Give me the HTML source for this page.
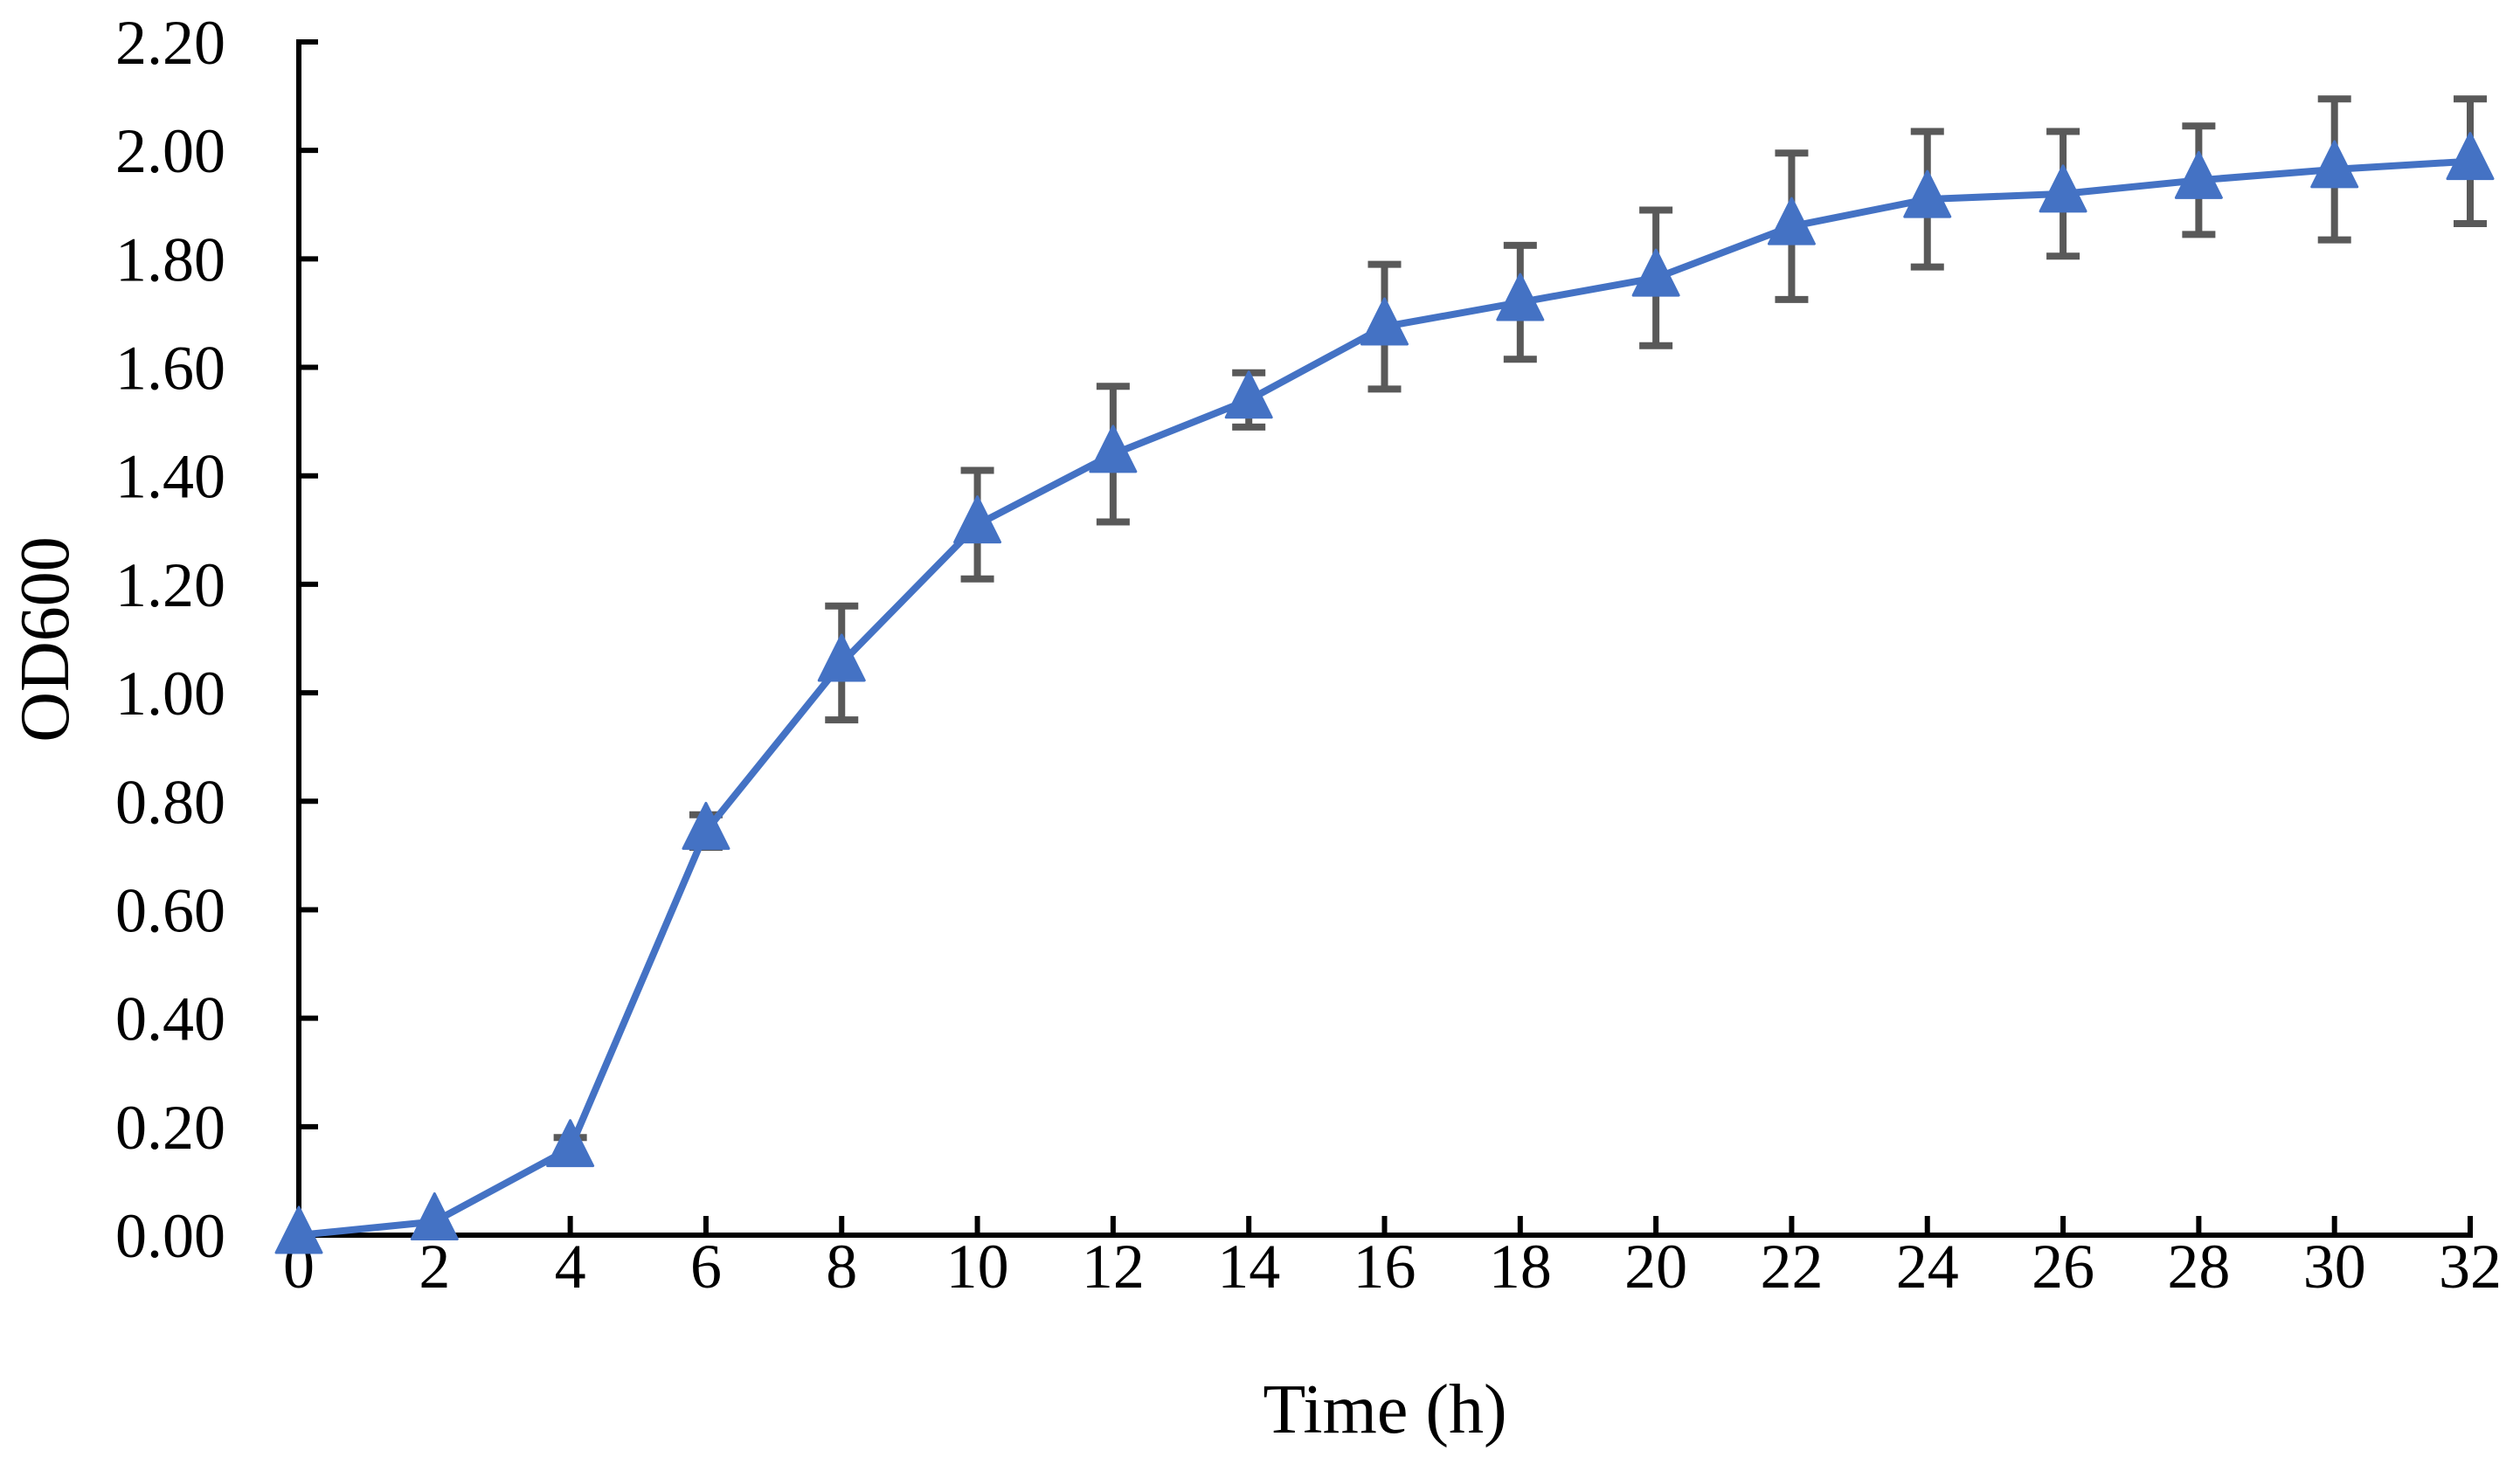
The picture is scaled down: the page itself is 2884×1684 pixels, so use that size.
<!DOCTYPE html>
<html><head><meta charset="utf-8"><style>
html,body{margin:0;padding:0;background:#fff;}
svg{display:block;font-family:"Liberation Serif",serif;}
</style></head><body>
<svg id="chart" width="2884" height="1684" viewBox="0 0 2884 1684">
<g id="axes"></g>
<g id="series"></g>
<text x="1585" y="1640" font-size="80" text-anchor="middle">Time (h)</text>
<text transform="translate(78,732) rotate(-90)" font-size="80" text-anchor="middle">OD600</text>
</svg>
<script>
const times=[0,2,4,6,8,10,12,14,16,18,20,22,24,26,28,30,32];
const od=[0,0.025,0.16,0.745,1.055,1.31,1.44,1.54,1.675,1.72,1.765,1.86,1.91,1.92,1.945,1.965,1.98];
const err=[0,0.005,0.02,0.03,0.105,0.1,0.125,0.05,0.115,0.105,0.125,0.135,0.125,0.115,0.1,0.13,0.115];
const yTicks=[0,0.2,0.4,0.6,0.8,1.0,1.2,1.4,1.6,1.8,2.0,2.2];
const xTicks=[0,2,4,6,8,10,12,14,16,18,20,22,24,26,28,30,32];

const NS='http://www.w3.org/2000/svg';
const X0=342,X1=2827,Y0=1414,Y1=48;
const xs=v=>X0+(v-0)/(32-0)*(X1-X0);
const ys=v=>Y0-(v-0)/(2.2-0)*(Y0-Y1);
function mk(t,a,p){const e=document.createElementNS(NS,t);for(const k in a)e.setAttribute(k,a[k]);p.appendChild(e);return e;}
const axes=document.getElementById('axes'),ser=document.getElementById('series');

let l=mk('line',{x1:X0,y1:Y1-3,x2:X0,y2:Y0+3,stroke:'#000','stroke-width':6},axes);


l=mk('line',{x1:X0-3,y1:Y0,x2:X1+3,y2:Y0,stroke:'#000','stroke-width':6},axes);


yTicks.forEach(v=>{
  const y=ys(v);
  const t=mk('line',{x1:X0,y1:y,x2:X0+22,y2:y,stroke:'#000','stroke-width':6},axes);
  
  
  const tx=mk('text',{x:258,y:y+25,'font-size':72,'text-anchor':'end'},axes);
  tx.textContent=v.toFixed(2);
  
  
});
xTicks.forEach(v=>{
  const x=xs(v);
  const t=mk('line',{x1:x,y1:Y0,x2:x,y2:Y0-22,stroke:'#000','stroke-width':6},axes);
  
  
  const tx=mk('text',{x:x,y:1474,'font-size':72,'text-anchor':'middle'},axes);
  tx.textContent=v;
  
  
});
times.forEach((t,i)=>{
  if(err[i]<=0.006) return;
  const x=xs(t),yt=ys(od[i]+err[i]),yb=ys(od[i]-err[i]);
  const g=mk('g',{stroke:'#595959','stroke-width':8},ser);
  
  
  mk('line',{x1:x,y1:yt,x2:x,y2:yb},g);
  mk('line',{x1:x-19,y1:yt,x2:x+19,y2:yt},g);
  mk('line',{x1:x-19,y1:yb,x2:x+19,y2:yb},g);
});
const pl=mk('polyline',{points:times.map((t,i)=>xs(t)+','+ys(od[i])).join(' '),fill:'none',stroke:'#4472C4','stroke-width':8,'stroke-linejoin':'round'},ser);


times.forEach((t,i)=>{
  const x=xs(t),y=ys(od[i]);
  const p=mk('polygon',{points:`${x},${y-32} ${x+26},${y+20} ${x-26},${y+20}`,fill:'#4472C4',stroke:'#4472C4','stroke-width':3,'stroke-linejoin':'round'},ser);
  
  
});
</script>
</body></html>
